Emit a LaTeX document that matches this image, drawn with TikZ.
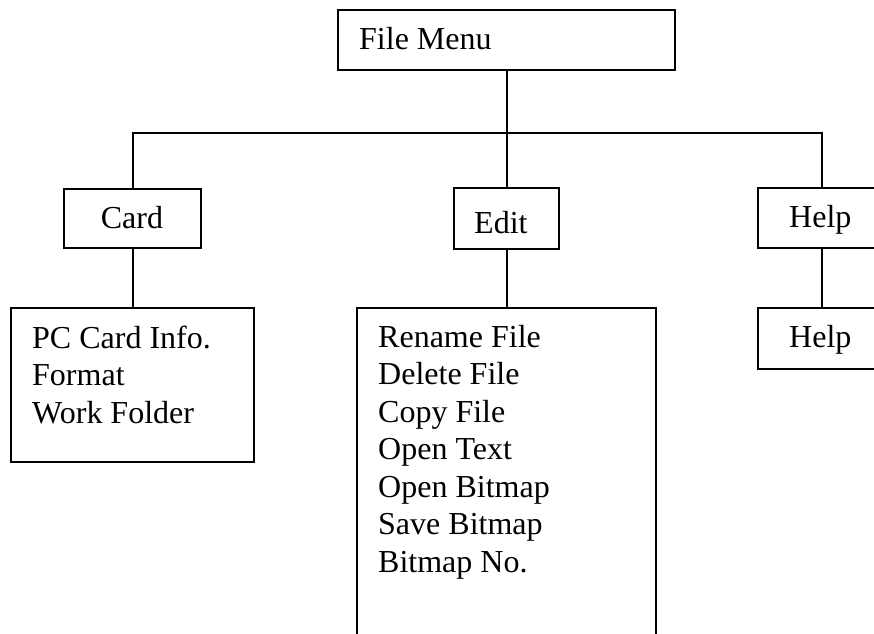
\documentclass[tikz,border=0pt]{standalone}
\usepackage{fontspec}
\setmainfont{Liberation Serif}
\begin{document}
\begin{tikzpicture}[x=1pt,y=-1pt,
  box/.style={draw=black, line width=2.4pt, rectangle, inner sep=0pt, anchor=north west},
  txt/.style={inner sep=0pt, anchor=base west, font=\fontsize{32pt}{37.5pt}\selectfont},
  conn/.style={draw=black, line width=2.4pt}]
\useasboundingbox (0,0) rectangle (874,633);
\clip (0,0) rectangle (874,633);
% boxes
\node[box, minimum width=337pt, minimum height=60pt] (filemenu) at (337,9) {};
\node[box, minimum width=137pt, minimum height=59pt] (card) at (63,188) {};
\node[box, minimum width=105pt, minimum height=61pt] (edit) at (453,187) {};
\node[box, minimum width=128pt, minimum height=60pt] (help) at (757,187) {};
\node[box, minimum width=243pt, minimum height=154pt] (pccard) at (10,307) {};
\node[box, minimum width=299pt, minimum height=400pt] (editlist) at (356,307) {};
\node[box, minimum width=128pt, minimum height=61pt] (help2) at (757,307) {};
% texts
\node[txt] (tfile) at (359,49) {File Menu};
\node[txt, anchor=base] (tcard) at (132,228) {Card};
\node[txt] (tedit) at (474,233) {Edit};
\node[txt] (thelp) at (789,227) {Help};
\node[txt] (thelp2) at (789,347) {Help};
\foreach \t [count=\i from 0] in {PC Card Info.,Format,Work Folder}
  \node[txt] (tpc\i) at (32,348+37.5*\i) {\t};
\foreach \t [count=\i from 0] in {Rename File,Delete File,Copy File,Open Text,Open Bitmap,Save Bitmap,Bitmap No.}
  \node[txt] (ted\i) at (378,347+37.5*\i) {\t};
% connectors
\coordinate (bus) at (505,133);
\draw[conn] (filemenu.south) -- (edit.north);
\draw[conn] (card.north) -- (card.north |- bus) -- (help.north |- bus) -- (help.north);
\draw[conn] (card.south) -- (pccard.north);
\draw[conn] (edit.south) -- (editlist.north);
\draw[conn] (help.south) -- (help2.north);
\end{tikzpicture}
\end{document}
